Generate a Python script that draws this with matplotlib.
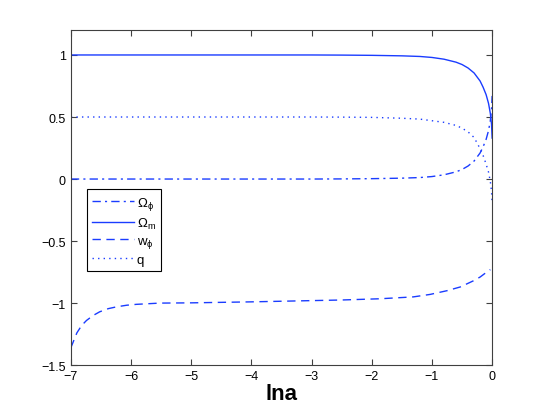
import matplotlib
matplotlib.use("Agg")
import matplotlib.pyplot as plt

plt.rcParams['font.family'] = ['Liberation Sans', 'DejaVu Sans']
plt.rcParams['mathtext.fontset'] = 'custom'
plt.rcParams['mathtext.rm'] = 'Liberation Sans'
plt.rcParams['mathtext.it'] = 'Liberation Sans'

# values
lna = [-7, -5, -3, -2.5, -2, -1.5, -1.2, -1.0, -0.8, -0.6, -0.5, -0.4, -0.3,
       -0.2, -0.15, -0.1, -0.06, -0.03, -0.01, 0]
omega_phi = [0, 0, 0, 0.001, 0.003, 0.007, 0.012, 0.02, 0.034, 0.058, 0.077, 0.105,
             0.145, 0.21, 0.26, 0.32, 0.39, 0.47, 0.56, 0.67]
omega_m = [1 - v for v in omega_phi]
q_vals = [0.5, 0.5, 0.5, 0.499, 0.497, 0.49, 0.483, 0.47, 0.457, 0.432, 0.41, 0.38,
          0.335, 0.245, 0.19, 0.12, 0.056, -0.02, -0.1, -0.2]

w_lna = [-7, -6.95, -6.9, -6.82, -6.74, -6.63, -6.52, -6.38, -6.24, -6.07, -5.91,
         -5.52, -5.0, -4.0, -3.0, -2.5, -1.86, -1.31, -1.03, -0.75, -0.53, -0.31,
         -0.2, -0.09, -0.03]
w_phi = [-1.36, -1.3, -1.24, -1.18, -1.14, -1.1, -1.07, -1.045, -1.03, -1.017, -1.01,
         -1.0, -0.998, -0.99, -0.98, -0.975, -0.965, -0.95, -0.93, -0.90, -0.87, -0.82,
         -0.79, -0.75, -0.73]

blue = '#1a3cff'

fig = plt.figure(figsize=(5.45, 4.1), dpi=100)
ax = fig.add_axes([0.130, 0.107, 0.773, 0.817])

ax.plot(lna, omega_phi, color=blue, lw=1, linestyle=(0, (6, 3, 1.5, 3)), label=r'$\Omega_\phi$')
ax.plot(lna, omega_m, color=blue, lw=1, linestyle='-', label=r'$\Omega_m$')
ax.plot(w_lna, w_phi, color=blue, lw=1, linestyle=(0, (6, 4)), label=r'$w_\phi$')
ax.plot(lna, q_vals, color=blue, lw=1, linestyle=(0, (1, 3)), label='q')

ax.set_xlim(-7, 0)
ax.set_ylim(-1.5, 1.2)
ax.set_xticks([-7, -6, -5, -4, -3, -2, -1, 0])
ax.set_yticks([-1.5, -1, -0.5, 0, 0.5, 1])
ax.set_yticklabels(['\u22121.5', '\u22121', '\u22120.5', '0', '0.5', '1'])
ax.set_xticklabels(['\u22127', '\u22126', '\u22125', '\u22124', '\u22123', '\u22122', '\u22121', '0'])
ax.tick_params(direction='in', top=True, right=True, labelsize=9, length=4, color='#404040')
for s in ax.spines.values():
    s.set_color('#404040')
    s.set_linewidth(0.8)

ax.set_xlabel('lna', fontsize=16, fontweight='bold', labelpad=1)

leg = ax.legend(loc='upper left', bbox_to_anchor=(0.038, 0.525), borderaxespad=0,
                fancybox=False, edgecolor='black', framealpha=1, fontsize=9.5,
                handlelength=3.2, handletextpad=0.2, borderpad=0.4, labelspacing=0.3)
leg.get_frame().set_linewidth(0.8)

fig.savefig('out.png', dpi=100)
